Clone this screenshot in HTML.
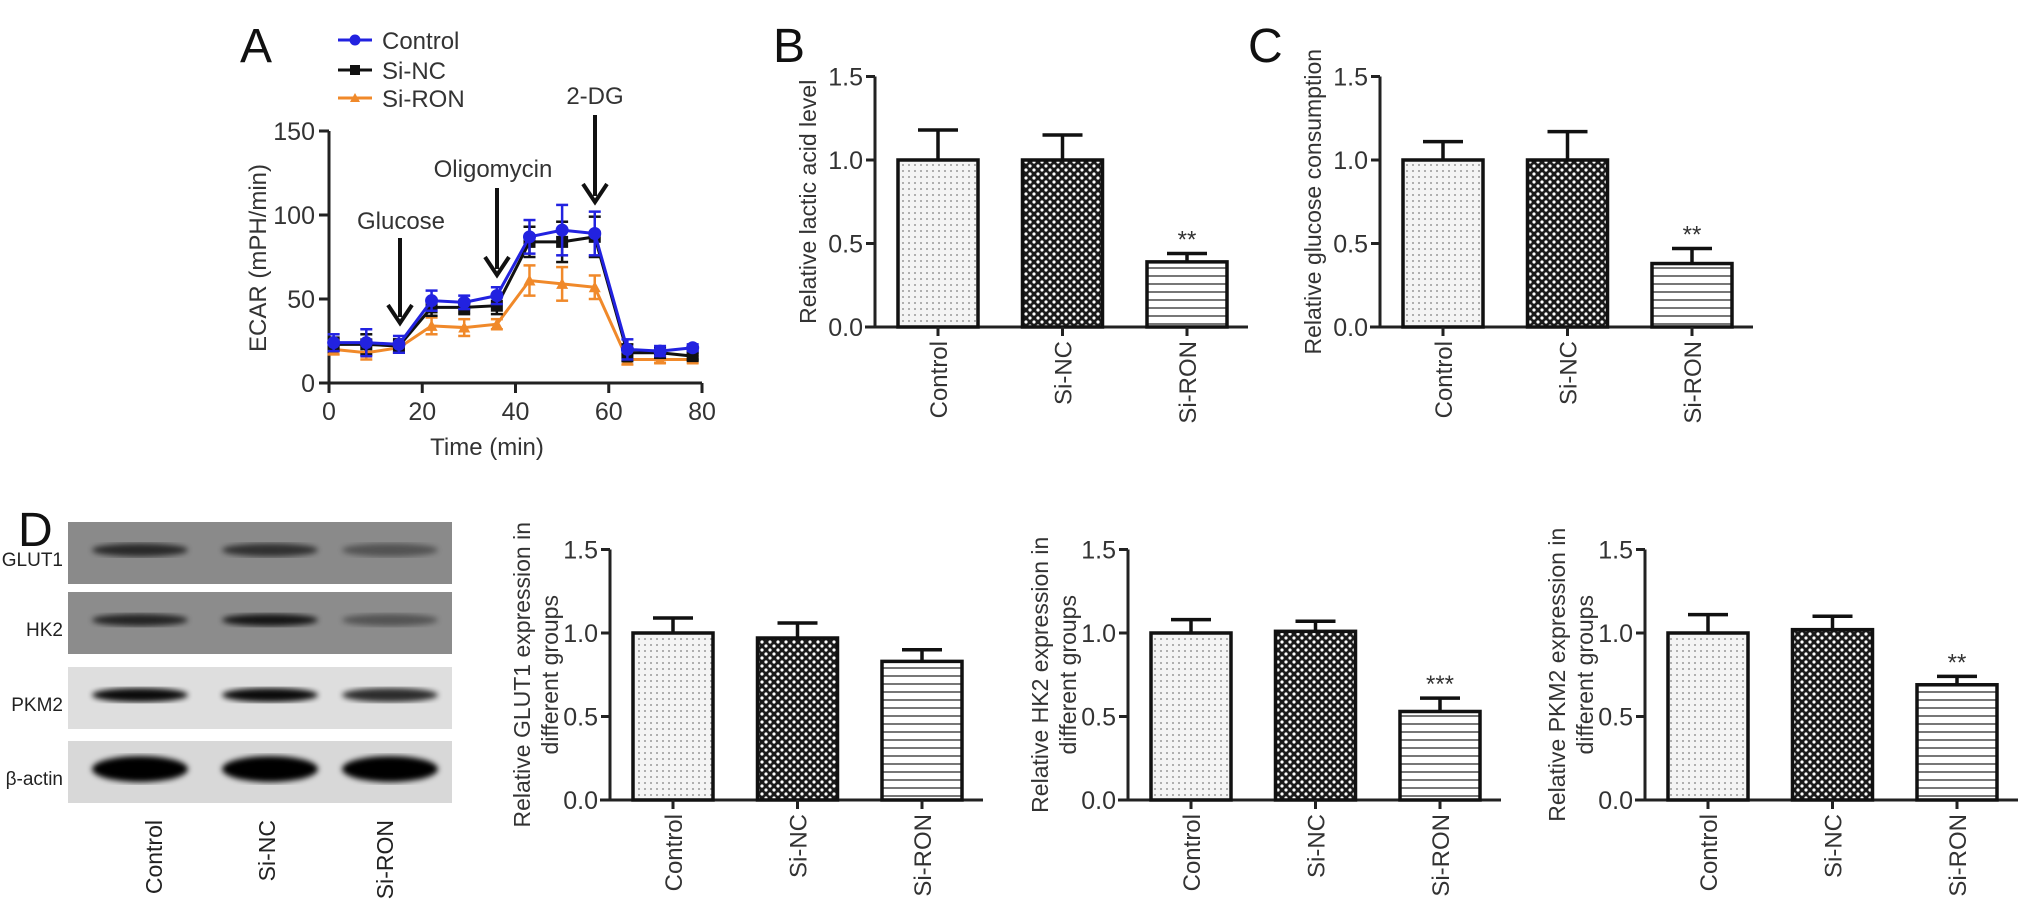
<!DOCTYPE html>
<html><head><meta charset="utf-8"><style>
html,body{margin:0;padding:0;background:#fff;}
svg{display:block;font-family:"Liberation Sans",Arial,sans-serif;}
</style></head><body>
<svg id="fig" width="2032" height="916" viewBox="0 0 2032 916" xmlns="http://www.w3.org/2000/svg">
<defs>
<pattern id="patDots" width="6" height="6" patternUnits="userSpaceOnUse"><rect width="6" height="6" fill="#f4f4f4"/><circle cx="3" cy="3" r="1" fill="#999"/></pattern>
<pattern id="patCheck" width="8" height="8" patternUnits="userSpaceOnUse"><rect width="8" height="8" fill="#1a1a1a"/><circle cx="2" cy="2" r="1.6" fill="#fff"/><circle cx="6" cy="6" r="1.6" fill="#fff"/></pattern>
<pattern id="patStripe" width="8" height="8" patternUnits="userSpaceOnUse"><rect width="8" height="8" fill="#fff"/><rect y="3" width="8" height="2" fill="#777"/></pattern>
<filter id="blur3"><feGaussianBlur stdDeviation="3"/></filter>
</defs>
<g id="layer"></g>
</svg>
<script>
// ---------- Panel A data ----------
const timePoints = [1, 8, 15, 22, 29, 36, 43, 50, 57, 64, 71, 78];
const ecarControl = [24, 24, 23, 49, 48, 52, 87, 91, 89, 20, 19, 21];
const ecarSiNC = [23, 23, 22, 45, 45, 46, 84, 84, 87, 18, 18, 16];
const ecarSiRON = [20, 18, 21, 34, 33, 35, 61, 59, 57, 14, 14, 14];
const errControl = [5, 8, 5, 6, 4, 5, 10, 15, 13, 6, 3, 2];
const errSiNC = [4, 6, 4, 5, 4, 5, 9, 12, 12, 5, 3, 2];
const errSiRON = [3, 4, 3, 5, 5, 3, 9, 10, 7, 3, 2, 2];
const ecarYTicks = [0, 50, 100, 150];
const ecarXTicks = [0, 20, 40, 60, 80];
const seriesNames = ["Control", "Si-NC", "Si-RON"];

// ---------- Bar charts data ----------
const groups = ["Control", "Si-NC", "Si-RON"];
const barYTicks = [0.0, 0.5, 1.0, 1.5];
const lacticValues = [1.0, 1.0, 0.39];
const lacticErrors = [0.18, 0.15, 0.05];
const lacticStars = ["", "", "**"];
const glucoseValues = [1.0, 1.0, 0.38];
const glucoseErrors = [0.11, 0.17, 0.09];
const glucoseStars = ["", "", "**"];
const glut1Values = [1.0, 0.97, 0.83];
const glut1Errors = [0.09, 0.09, 0.07];
const glut1Stars = ["", "", ""];
const hk2Values = [1.0, 1.01, 0.53];
const hk2Errors = [0.08, 0.06, 0.08];
const hk2Stars = ["", "", "***"];
const pkm2Values = [1.0, 1.02, 0.69];
const pkm2Errors = [0.11, 0.08, 0.05];
const pkm2Stars = ["", "", "**"];

const NS = "http://www.w3.org/2000/svg";
const layer = document.getElementById("layer");
function mk(tag, attrs, parent) {
  const e = document.createElementNS(NS, tag);
  for (const k in attrs) e.setAttribute(k, attrs[k]);
  (parent || layer).appendChild(e);
  return e;
}
function txt(s, attrs, parent) { const e = mk("text", attrs, parent); e.textContent = s; return e; }

// ---------- Panel letters ----------
[["A", 240, 62], ["B", 773, 62], ["C", 1248, 62], ["D", 18, 546]].forEach(p => {
  const t = txt(p[0], {x: p[1], y: p[2], "font-size": 48, fill: "#111"});
  
  
});

// ---------- Panel A ----------
(function () {
  const g = mk("g", {});
  
  
  const x0 = 329, x1 = 702, y0 = 383, y1 = 131;
  const sx = t => x0 + (t / 80) * (x1 - x0);
  const sy = v => y0 - (v / 150) * (y0 - y1);
  const yax = mk("line", {x1: x0, y1: y1, x2: x0, y2: y0 + 1, stroke: "#222", "stroke-width": 3}, g);
  
  
  const xax = mk("line", {x1: x0 - 10, y1: y0, x2: x1, y2: y0, stroke: "#222", "stroke-width": 3}, g);
  
  
  ecarYTicks.forEach(v => {
    mk("line", {x1: x0 - 10, y1: sy(v), x2: x0, y2: sy(v), stroke: "#222", "stroke-width": 3}, g);
    const t = txt(String(v), {x: x0 - 14, y: sy(v) + 9, "font-size": 25, "text-anchor": "end", fill: "#333"}, g);
    
    
  });
  ecarXTicks.forEach(v => {
    mk("line", {x1: sx(v), y1: y0, x2: sx(v), y2: y0 + 10, stroke: "#222", "stroke-width": 3}, g);
    const t = txt(String(v), {x: sx(v), y: y0 + 37, "font-size": 25, "text-anchor": "middle", fill: "#333"}, g);
    
    
  });
  const xt = txt("Time (min)", {x: 487, y: 455, "font-size": 24, "text-anchor": "middle", fill: "#333"}, g);
  
  
  const yt = txt("ECAR (mPH/min)", {x: 0, y: 0, "font-size": 24, "text-anchor": "middle", fill: "#333", transform: "translate(266,258) rotate(-90)"}, g);
  
  

  const series = [[ecarSiRON, errSiRON, "#f0892a", "tri"], [ecarSiNC, errSiNC, "#111", "sq"], [ecarControl, errControl, "#2222e0", "dot"]];
  const names = ["si-ron", "si-nc", "control"];
  series.forEach((s, si) => {
    const sg = mk("g", {}, g);
    
    
    const pts = timePoints.map((t, i) => sx(t) + "," + sy(s[0][i])).join(" ");
    mk("polyline", {points: pts, fill: "none", stroke: s[2], "stroke-width": 3}, sg);
    timePoints.forEach((t, i) => {
      const cx = sx(t), v = s[0][i], e = s[1][i];
      mk("line", {x1: cx, y1: sy(v - e), x2: cx, y2: sy(v + e), stroke: s[2], "stroke-width": 2.5}, sg);
      mk("line", {x1: cx - 6, y1: sy(v + e), x2: cx + 6, y2: sy(v + e), stroke: s[2], "stroke-width": 2.5}, sg);
      mk("line", {x1: cx - 6, y1: sy(v - e), x2: cx + 6, y2: sy(v - e), stroke: s[2], "stroke-width": 2.5}, sg);
      let m;
      if (s[3] === "dot") m = mk("circle", {cx: cx, cy: sy(v), r: 6.5, fill: s[2]}, sg);
      else if (s[3] === "sq") m = mk("rect", {x: cx - 6, y: sy(v) - 6, width: 12, height: 12, fill: s[2]}, sg);
      else m = mk("polygon", {points: `${cx},${sy(v) - 6} ${cx - 6},${sy(v) + 5} ${cx + 6},${sy(v) + 5}`, fill: s[2]}, sg);
      
      
    });
  });
  // legend
  const legColors = ["#2222e0", "#111", "#f0892a"], legY = [40, 70, 98];
  seriesNames.forEach((n, i) => {
    const lg = mk("g", {}, g);
    
    
    mk("line", {x1: 338, y1: legY[i], x2: 372, y2: legY[i], stroke: legColors[i], "stroke-width": 3}, lg);
    if (i === 0) mk("circle", {cx: 355, cy: legY[i], r: 5.5, fill: legColors[i]}, lg);
    else if (i === 1) mk("rect", {x: 350, y: legY[i] - 5, width: 10, height: 10, fill: legColors[i]}, lg);
    else mk("polygon", {points: `355,${legY[i] - 5} 350,${legY[i] + 4} 360,${legY[i] + 4}`, fill: legColors[i]}, lg);
    txt(n, {x: 382, y: legY[i] + 9, "font-size": 24, fill: "#333"}, lg);
  });
  // arrows
  [["Glucose", 400, 238, 323, 401, 229], ["Oligomycin", 497, 188, 275, 493, 177], ["2-DG", 595, 115, 202, 595, 104]].forEach(a => {
    const ag = mk("g", {}, g);
    
    
    mk("line", {x1: a[1], y1: a[2], x2: a[1], y2: a[3] - 6, stroke: "#111", "stroke-width": 4}, ag);
    mk("polyline", {points: `${a[1] - 12},${a[3] - 18} ${a[1]},${a[3]} ${a[1] + 12},${a[3] - 18}`, fill: "none", stroke: "#111", "stroke-width": 4}, ag);
    txt(a[0], {x: a[4], y: a[5], "font-size": 24, "text-anchor": "middle", fill: "#333"}, ag);
  });
})();

// ---------- Bar charts ----------
const fills = ["url(#patDots)", "url(#patCheck)", "url(#patStripe)"];
function barChart(name, axisX, baseY, values, errors, stars, titleLines, titleX) {
  const g = mk("g", {});
  
  
  const unit = 167, bw = 80, step = 124.5, first = 63;
  const sy = v => baseY - v * unit;
  const cxOf = i => axisX + first + i * step;
  const ya = mk("line", {x1: axisX, y1: sy(1.5), x2: axisX, y2: baseY + 1, stroke: "#222", "stroke-width": 3}, g);
  
  
  const xa = mk("line", {x1: axisX - 10, y1: baseY, x2: axisX + 373, y2: baseY, stroke: "#222", "stroke-width": 3}, g);
  
  
  barYTicks.forEach(v => {
    mk("line", {x1: axisX - 9, y1: sy(v), x2: axisX, y2: sy(v), stroke: "#222", "stroke-width": 3}, g);
    const t = txt(v.toFixed(1), {x: axisX - 12, y: sy(v) + 9, "font-size": 25, "text-anchor": "end", fill: "#333"}, g);
    
    
  });
  groups.forEach((gname, i) => {
    const cx = cxOf(i), v = values[i], e = errors[i];
    const eb = mk("g", {}, g);
    
    
    mk("line", {x1: cx, y1: sy(v), x2: cx, y2: sy(v + e), stroke: "#111", "stroke-width": 3.5}, eb);
    mk("line", {x1: cx - 20, y1: sy(v + e), x2: cx + 20, y2: sy(v + e), stroke: "#111", "stroke-width": 3.5}, eb);
    const b = mk("rect", {x: cx - bw / 2, y: sy(v), width: bw, height: v * unit, fill: fills[i], stroke: "#111", "stroke-width": 3.5}, g);
    
    
    mk("line", {x1: cx, y1: baseY, x2: cx, y2: baseY + 9, stroke: "#222", "stroke-width": 3}, g);
    const cl = txt(gname, {x: 0, y: 0, "font-size": 24, "text-anchor": "end", fill: "#333", transform: `translate(${cx + 9},${baseY + 14}) rotate(-90)`}, g);
    
    
    if (stars[i]) {
      const st = txt(stars[i], {x: cx, y: sy(v + e) - 6, "font-size": 24, "text-anchor": "middle", fill: "#333"}, g);
      
      
    }
  });
  const tg = mk("g", {transform: `translate(${titleX},${sy(0.75)}) rotate(-90)`}, g);
  
  
  titleLines.forEach((l, k) => {
    txt(l, {x: 0, y: k * 28 - (titleLines.length - 1) * 14 + 8, "font-size": 23, "text-anchor": "middle", fill: "#333"}, tg);
  });
}
barChart("lactic", 875, 327, lacticValues, lacticErrors, lacticStars, ["Relative lactic acid level"], 808);
barChart("glucose", 1380, 327, glucoseValues, glucoseErrors, glucoseStars, ["Relative glucose consumption"], 1313);
barChart("glut1", 610, 800, glut1Values, glut1Errors, glut1Stars, ["Relative GLUT1 expression in", "different groups"], 536);
barChart("hk2", 1128, 800, hk2Values, hk2Errors, hk2Stars, ["Relative HK2 expression in", "different groups"], 1054);
barChart("pkm2", 1645, 800, pkm2Values, pkm2Errors, pkm2Stars, ["Relative PKM2 expression in", "different groups"], 1571);

// ---------- Western blot ----------
(function () {
  const g = mk("g", {});
  
  
  const rows = [["GLUT1", 522, "#8a8a8a", [0.7, 0.65, 0.4], 9], ["HK2", 592, "#8c8c8c", [0.75, 0.85, 0.4], 8], ["PKM2", 667, "#dedede", [0.95, 0.95, 0.8], 10], ["β-actin", 741, "#d8d8d8", [1, 1, 1], 22]];
  const laneX = [140, 270, 390];
  rows.forEach(r => {
    const rg = mk("g", {}, g);
    
    
    mk("rect", {x: 68, y: r[1], width: 384, height: 62, fill: r[2]}, rg);
    laneX.forEach((lx, i) => {
      mk("ellipse", {cx: lx, cy: r[1] + 28, rx: 48, ry: r[4] / 2 + 2, fill: "#000", opacity: r[3][i], filter: "url(#blur3)"}, rg);
    });
    const lt = txt(r[0], {x: 63, y: r[1] + 44, "font-size": 19, "text-anchor": "end", fill: "#222"}, rg);
    
    
  });
  const laneLabelX = [153, 266, 384];
  groups.forEach((gname, i) => {
    const t = txt(gname, {x: 0, y: 0, "font-size": 23, "text-anchor": "end", fill: "#222", transform: `translate(${laneLabelX[i] + 9},${820}) rotate(-90)`}, g);
    
    
  });
})();
</script>
</body></html>
